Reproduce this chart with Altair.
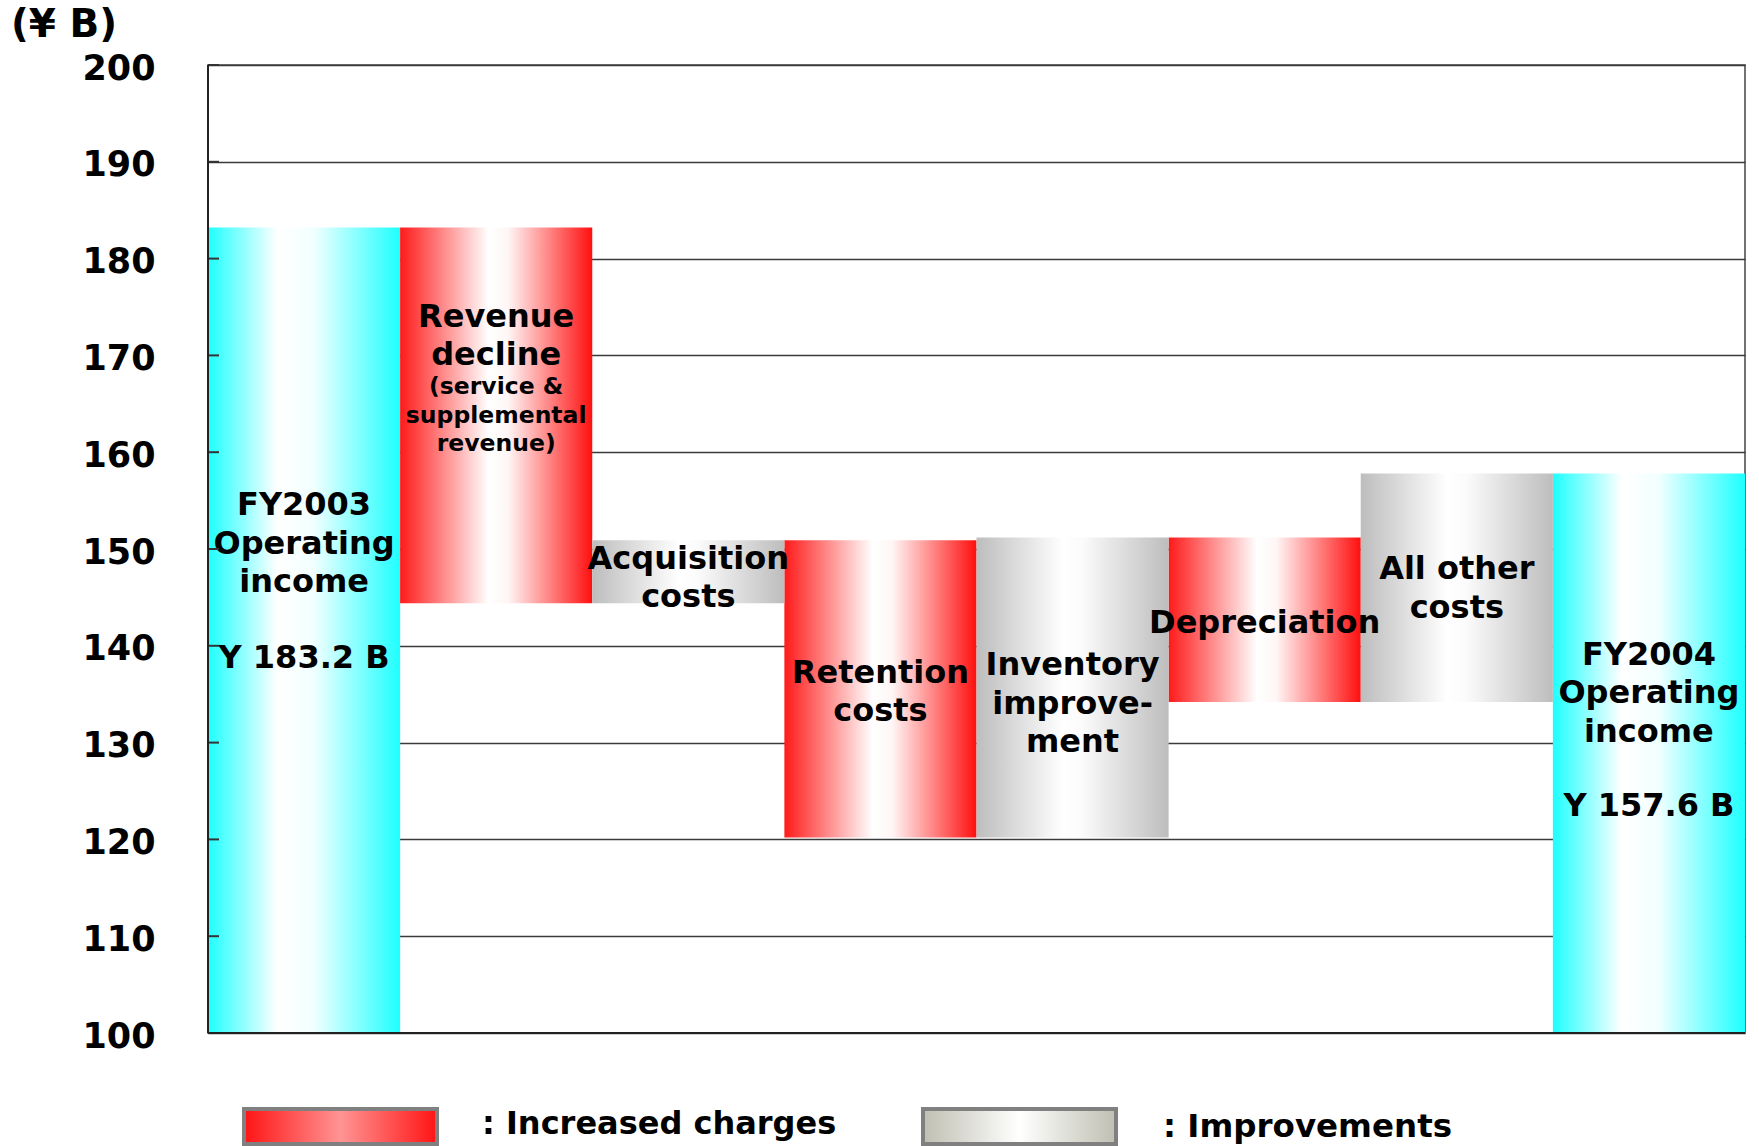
import altair as alt
import pandas as pd

# ---- data ----
categories = ["FY2003", "Revenue decline", "Acquisition costs", "Retention costs",
              "Inventory improvement", "Depreciation", "All other costs", "FY2004"]
bar_low = [100.0, 144.4, 144.4, 120.2, 120.2, 134.2, 134.2, 100.0]
bar_high = [183.2, 183.2, 150.9, 150.9, 151.2, 151.2, 157.8, 157.8]
bar_kind = ["total", "charge", "improve", "charge", "improve", "charge", "improve", "total"]

bar_labels = ["FY2003\nOperating\nincome",
              "Revenue\ndecline",
              "Acquisition\ncosts",
              "Retention\ncosts",
              "Inventory\nimprove-\nment",
              "Depreciation",
              "All other\ncosts",
              "FY2004\nOperating\nincome"]
# level (in ¥ B) of the first text line of each label
label_level = [154.5, 174.0, 149.0, 137.2, 138.0, 142.4, 147.9, 139.1]

value_labels = ["Y 183.2 B", "Y 157.6 B"]
value_cats = ["FY2003", "FY2004"]
value_level = [138.7, 123.4]

sub_label = ["(service &\nsupplemental\nrevenue)"]
sub_label_cat = ["Revenue decline"]
sub_label_level = [166.7]

y_ticks = list(range(100, 201, 10))
unit_text = "(¥ B)"
legend_texts = [": Increased charges", ": Improvements"]

FONT = "DejaVu Sans"
W, H = 1537, 968

bars = pd.DataFrame({"cat": categories, "low": bar_low, "high": bar_high, "kind": bar_kind})
labels = pd.DataFrame({"cat": categories, "txt": bar_labels, "lv": label_level})
vals = pd.DataFrame({"cat": value_cats, "txt": value_labels, "lv": value_level})
subl = pd.DataFrame({"cat": sub_label_cat, "txt": sub_label, "lv": sub_label_level})
ticks = pd.DataFrame({"v": y_ticks})

yscale = alt.Scale(domain=[100, 200], nice=False, zero=False)
yaxis = alt.Axis(values=y_ticks, title=None, labelFontSize=35, labelFont=FONT,
                 labelFontWeight="bold", labelColor="black", labelPadding=53,
                 labelOffset=3, ticks=False, domain=False, grid=True,
                 gridColor="#3a3a3a", gridWidth=1.3)
xenc = alt.X("cat:N", sort=categories, axis=None,
             scale=alt.Scale(paddingInner=0, paddingOuter=0))


def grad(stops):
    return alt.LinearGradient(
        gradient="linear",
        stops=[alt.GradientStop(color=c, offset=o) for o, c in stops],
        x1=0, x2=1, y1=0, y2=0)


cyan = grad([(0, "#1effff"), (0.36, "#ffffff"), (0.55, "#f2ffff"), (1, "#1effff")])
red = grad([(0, "#ff1a1a"), (0.46, "#ffffff"), (0.56, "#fff6f6"), (1, "#ff0f0f")])
gray = grad([(0, "#bdbdbd"), (0.45, "#ffffff"), (0.55, "#fbfbfb"), (1, "#bdbdbd")])
red_leg = grad([(0, "#ff1414"), (0.5, "#ff9494"), (1, "#ff1414")])
gray_leg = grad([(0, "#bfbfb2"), (0.5, "#ffffff"), (1, "#bfbfb2")])

base = alt.Chart(bars).encode(
    x=xenc,
    y=alt.Y("low:Q", scale=yscale, axis=yaxis),
    y2="high:Q",
)
layers = []
for kind, g in [("total", cyan), ("charge", red), ("improve", gray)]:
    layers.append(base.transform_filter(alt.datum.kind == kind).mark_bar(fill=g, strokeWidth=0))


def text_layer(df, size, lh):
    return alt.Chart(df).mark_text(
        font=FONT, fontWeight="bold", fontSize=size, lineBreak="\n", lineHeight=lh,
        align="center", baseline="middle", color="black"
    ).encode(x=xenc, y=alt.Y("lv:Q", scale=yscale, axis=yaxis), text="txt:N")


text_big = text_layer(labels, 32, 38.5)
text_vals = text_layer(vals, 32, 38.5)
text_small = text_layer(subl, 23.5, 28.5)

tick_marks = alt.Chart(ticks).mark_rule(color="#333", strokeWidth=2).encode(
    x=alt.value(0), x2=alt.value(11), y=alt.Y("v:Q", scale=yscale, axis=yaxis))

one = pd.DataFrame({"a": [0]})
left_line = alt.Chart(one).mark_rule(color="#222", strokeWidth=2).encode(
    x=alt.value(0), y=alt.value(0), y2=alt.value(H))
bottom_line = alt.Chart(one).mark_rule(color="#222", strokeWidth=2).encode(
    x=alt.value(0), x2=alt.value(W), y=alt.value(H))

unit = alt.Chart(one).mark_text(
    font=FONT, fontWeight="bold", fontSize=39, align="left", baseline="middle", color="black"
).encode(x=alt.value(-197), y=alt.value(-40), text=alt.value(unit_text))

leg_red = alt.Chart(one).mark_rect(fill=red_leg, stroke="#808080", strokeWidth=4).encode(
    x=alt.value(36), x2=alt.value(229), y=alt.value(1044), y2=alt.value(1079))
leg_gray = alt.Chart(one).mark_rect(fill=gray_leg, stroke="#808080", strokeWidth=4).encode(
    x=alt.value(715), x2=alt.value(908), y=alt.value(1044), y2=alt.value(1079))
leg_t1 = alt.Chart(one).mark_text(
    font=FONT, fontWeight="bold", fontSize=32, align="left", baseline="middle", color="black"
).encode(x=alt.value(274), y=alt.value(1059), text=alt.value(legend_texts[0]))
leg_t2 = alt.Chart(one).mark_text(
    font=FONT, fontWeight="bold", fontSize=32.5, align="left", baseline="middle", color="black"
).encode(x=alt.value(955), y=alt.value(1062), text=alt.value(legend_texts[1]))

chart = alt.layer(
    *layers, text_big, text_vals, text_small, tick_marks, left_line, bottom_line,
    unit, leg_red, leg_gray, leg_t1, leg_t2
).properties(
    width=W, height=H,
    autosize=alt.AutoSizeParams(type="none"),
    padding={"left": 208, "top": 65, "right": 14, "bottom": 113},
    background="white",
).configure_view(stroke="#444", strokeWidth=1.5)

chart.save("out.html", embed_options={"renderer": "svg", "actions": False})
